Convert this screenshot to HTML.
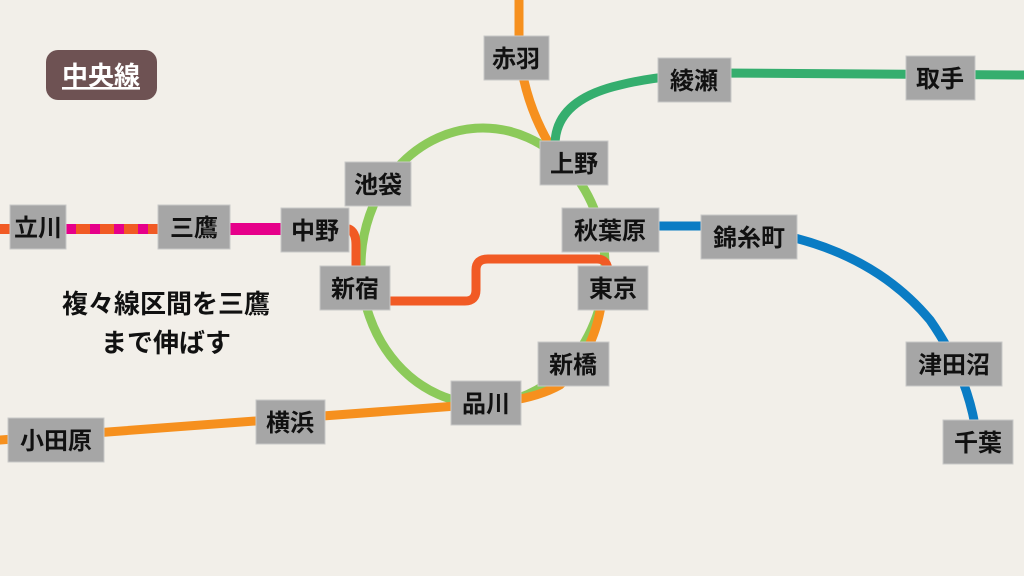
<!DOCTYPE html>
<html><head><meta charset="utf-8"><style>
body{margin:0;background:#f2efe9;}
svg{display:block}
text{font-family:"Liberation Sans","Noto Sans CJK JP",sans-serif;font-weight:bold;}
</style></head><body>
<svg width="1024" height="576" viewBox="0 0 1024 576" xmlns="http://www.w3.org/2000/svg">
<rect width="1024" height="576" fill="#f2efe9"/>
<g fill="none" stroke-width="9" stroke-linecap="round">
<ellipse cx="483" cy="266" rx="122" ry="138" stroke="#8cca5a"/>
<path d="M519 0 L519 50 Q524 100 548 142" stroke="#f6901e"/>
<path d="M603 290 Q598 350 560 385 Q530 402 470 405 L0 440" stroke="#f6901e"/>
<path d="M555 145 Q555 100 620 85 Q660 75 720 73 L1024 75" stroke="#35ae6e"/>
<path d="M659 226 L705 226 M795 238 Q880 260 930 320 Q965 370 975 425" stroke="#0a7cc4"/>
<path d="M0 229 L160 229" stroke="#f15a24" stroke-width="10"/>
<path d="M66 229 L160 229" stroke="#e6008a" stroke-width="10" stroke-dasharray="10 14" stroke-linecap="butt"/>
<path d="M230 229 L285 229" stroke="#e6008a" stroke-width="12" stroke-linecap="butt"/>
<path d="M349 229 Q356 232 356 245 L356 290" stroke="#f15a24"/>
<path d="M390 301 L465 301 Q476 301 476 290 L476 270 Q476 259 488 259 L597 259 Q608 259 608 272" stroke="#f15a24"/>
</g>
<rect x="46" y="50" width="111" height="50" rx="12" fill="#6e5253"/>
<text x="101" y="85" font-size="26" fill="#fff" text-anchor="middle" text-decoration="underline">中央線</text>
<g fill="#a6a6a6" stroke="#c8c8c8" stroke-width="1">
<rect x="484" y="36" width="65" height="44"/>
<rect x="658" y="58" width="73" height="44"/>
<rect x="906" y="56" width="69" height="44"/>
<rect x="540" y="141" width="68" height="44"/>
<rect x="345" y="162" width="66" height="44"/>
<rect x="10" y="205" width="56" height="44"/>
<rect x="158" y="205" width="72" height="44"/>
<rect x="281" y="208" width="68" height="44"/>
<rect x="562" y="208" width="97" height="44"/>
<rect x="701" y="215" width="96" height="44"/>
<rect x="320" y="266" width="70" height="44"/>
<rect x="578" y="266" width="70" height="44"/>
<rect x="538" y="342" width="71" height="44"/>
<rect x="451" y="381" width="70" height="44"/>
<rect x="256" y="400" width="69" height="44"/>
<rect x="8" y="418" width="96" height="44"/>
<rect x="906" y="342" width="96" height="44"/>
<rect x="943" y="420" width="70" height="44"/>
</g>
<g font-size="24" fill="#111" text-anchor="middle">
<text x="516" y="67">赤羽</text>
<text x="694" y="89">綾瀬</text>
<text x="940" y="87">取手</text>
<text x="574" y="172">上野</text>
<text x="378" y="193">池袋</text>
<text x="38" y="236">立川</text>
<text x="194" y="236">三鷹</text>
<text x="315" y="239">中野</text>
<text x="610" y="239">秋葉原</text>
<text x="749" y="246">錦糸町</text>
<text x="355" y="297">新宿</text>
<text x="613" y="297">東京</text>
<text x="573" y="373">新橋</text>
<text x="486" y="412">品川</text>
<text x="290" y="431">横浜</text>
<text x="56" y="449">小田原</text>
<text x="954" y="373">津田沼</text>
<text x="978" y="451">千葉</text>
</g>
<g font-size="26" fill="#111" text-anchor="middle">
<text x="166" y="313">複々線区間を三鷹</text>
<text x="166" y="352">まで伸ばす</text>
</g>
</svg>
</body></html>
